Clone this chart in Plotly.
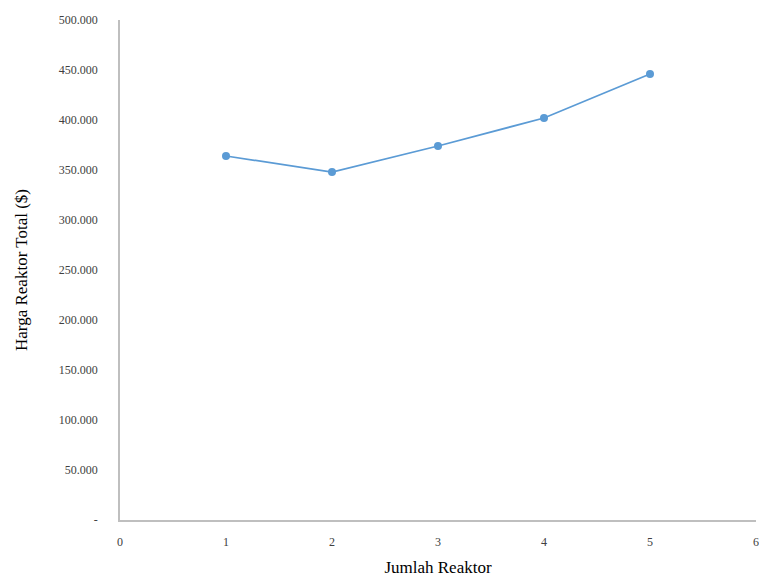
import plotly.graph_objects as go

jumlah_reaktor = [1, 2, 3, 4, 5]
harga_total = [364000, 348000, 374000, 402000, 446000]

y_tick_vals = [0, 50000, 100000, 150000, 200000, 250000, 300000, 350000, 400000, 450000, 500000]
y_tick_text = ["-", "50.000", "100.000", "150.000", "200.000", "250.000",
               "300.000", "350.000", "400.000", "450.000", "500.000"]
x_tick_vals = [0, 1, 2, 3, 4, 5, 6]

fig = go.Figure()
fig.add_trace(go.Scatter(
    x=jumlah_reaktor, y=harga_total, mode="lines+markers",
    line=dict(color="#5b9bd5", width=1.75),
    marker=dict(color="#5b9bd5", size=8),
    showlegend=False, cliponaxis=False,
))

font_family = "Liberation Serif"
fig.update_layout(
    width=759, height=581,
    margin=dict(l=120, r=0, t=20, b=61),
    paper_bgcolor="white", plot_bgcolor="white",
    font=dict(family=font_family, color="#404040"),
    xaxis=dict(
        range=[0, 6], tickvals=x_tick_vals, showgrid=False, zeroline=False,
        showline=True, linecolor="#bfbfbf", linewidth=1.5, ticks="",
        tickfont=dict(size=12, color="#404040"), ticklabelstandoff=10,
        ticklabeloverflow="allow",
        title=dict(text="Jumlah Reaktor", font=dict(size=17, color="#000000"), standoff=13),
    ),
    yaxis=dict(
        range=[0, 500000], tickvals=y_tick_vals, ticktext=y_tick_text,
        showgrid=False, zeroline=False, showline=True, linecolor="#bfbfbf", linewidth=1.5,
        ticks="", tickfont=dict(size=12, color="#404040"), ticklabelstandoff=18,
        title=dict(text="Harga Reaktor Total ($)", font=dict(size=17, color="#000000"), standoff=27),
    ),
)
fig.write_html("out.html", config={"displayModeBar": False},
               post_script="document.body.style.margin='0';")
